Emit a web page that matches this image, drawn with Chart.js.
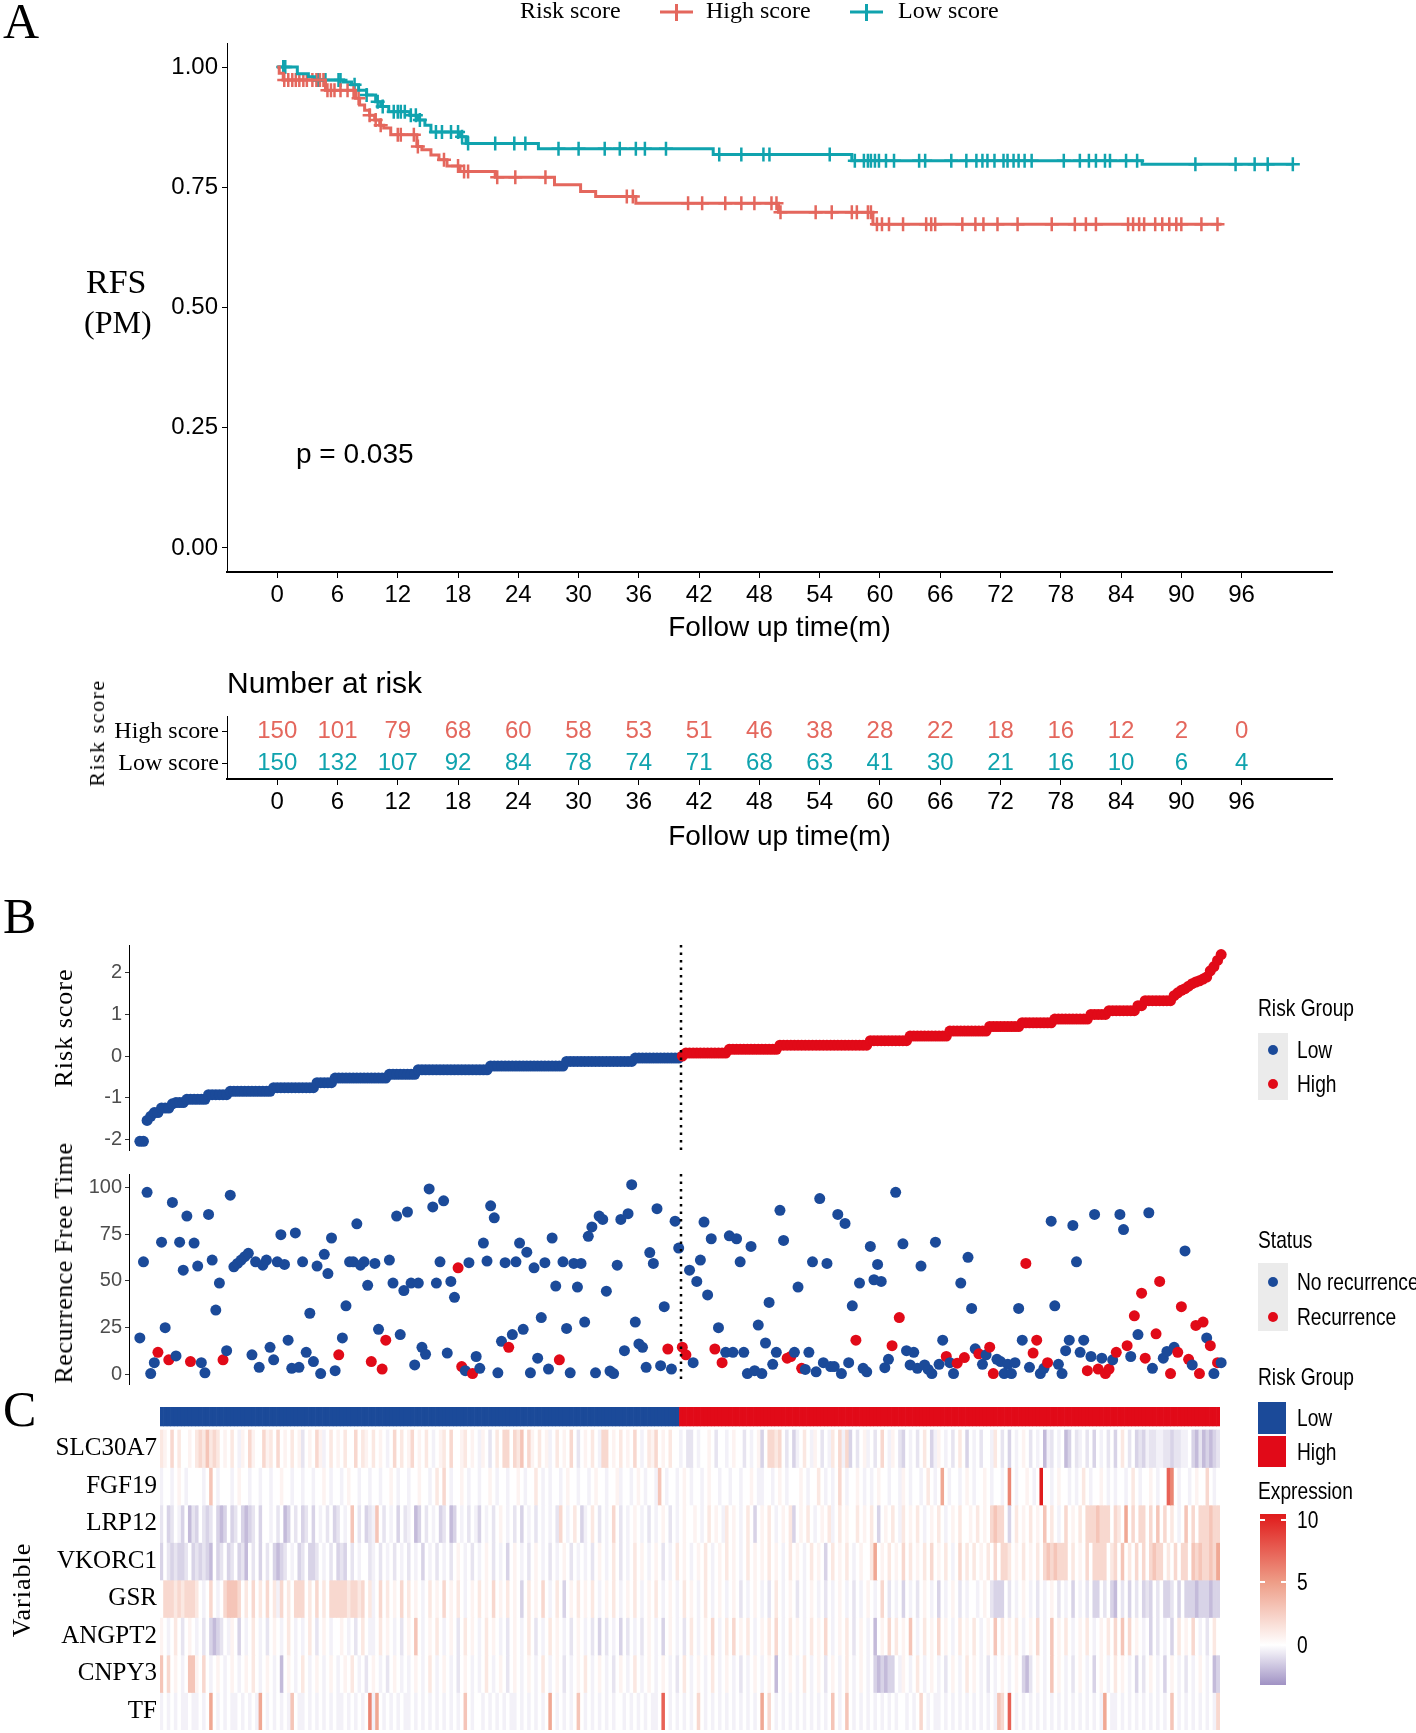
<!DOCTYPE html>
<html>
<head>
<meta charset="utf-8">
<script src="https://cdn.jsdelivr.net/npm/chart.js@4.4.1/dist/chart.umd.min.js"></script>
<style>
  body { margin: 0; background: #fff; }
  #page { position: relative; width: 1416px; height: 1733px; overflow: hidden; background: #fff; }
  canvas { position: absolute; left: 0; }
  .t { position: absolute; white-space: nowrap; color: #000; line-height: 1; }
  .serif { font-family: "Liberation Serif", "Times New Roman", serif; }
  .sans { font-family: "Liberation Sans", Arial, sans-serif; }
  .mid { transform: translateY(-50%); }
  .vert { transform: translate(-50%, -50%) rotate(-90deg); }
  .narrow { transform: translateY(-50%) scaleX(0.8); transform-origin: left center; font-size: 24px; }
  .box { position: absolute; }
  .dot { position: absolute; width: 10px; height: 10px; border-radius: 50%; }
</style>
</head>
<body>
<div id="page">
  <canvas id="km" width="1416" height="650" style="top:0"></canvas>
  <canvas id="riskTable" width="1416" height="210" style="top:650px"></canvas>
  <canvas id="riskScore" width="1416" height="260" style="top:900px"></canvas>
  <canvas id="rft" width="1416" height="240" style="top:1160px"></canvas>
  <canvas id="heat" width="1416" height="333" style="top:1400px"></canvas>

  <!-- panel letters and titles -->
  <div class="t serif mid" style="left:3px;top:21px;font-size:50px">A</div>
  <div class="t serif mid" style="left:3px;top:916px;font-size:50px">B</div>
  <div class="t serif mid" style="left:3px;top:1409px;font-size:50px">C</div>

  <div class="t serif mid" style="left:86px;top:282px;font-size:34px">RFS</div>
  <div class="t serif mid" style="left:84px;top:322px;font-size:32px">(PM)</div>
  <div class="t sans mid" style="left:296px;top:454px;font-size:28px">p = 0.035</div>
  <div class="t sans mid" style="left:227px;top:683px;font-size:30px">Number at risk</div>
  <div class="t serif vert" style="left:97px;top:733px;font-size:22px;letter-spacing:1.5px">Risk score</div>

  <div class="t serif vert" style="left:64px;top:1028px;font-size:26px;letter-spacing:1px">Risk score</div>
  <div class="t serif vert" style="left:64px;top:1263px;font-size:26px;letter-spacing:0.5px">Recurrence Free Time</div>
  <div class="t serif vert" style="left:22px;top:1590px;font-size:26px;letter-spacing:1px">Variable</div>

  <!-- legend: risk group (B) -->
  <div class="t sans narrow" style="left:1258px;top:1008px">Risk Group</div>
  <div class="box" style="left:1258px;top:1033px;width:30px;height:67px;background:#EBEBEB"></div>
  <div class="dot" style="left:1268px;top:1045px;background:#1B4A99"></div>
  <div class="dot" style="left:1268px;top:1079px;background:#E10A18"></div>
  <div class="t sans narrow" style="left:1297px;top:1050px">Low</div>
  <div class="t sans narrow" style="left:1297px;top:1084px">High</div>

  <!-- legend: status -->
  <div class="t sans narrow" style="left:1258px;top:1240px">Status</div>
  <div class="box" style="left:1258px;top:1263px;width:30px;height:68px;background:#EBEBEB"></div>
  <div class="dot" style="left:1268px;top:1277px;background:#1B4A99"></div>
  <div class="dot" style="left:1268px;top:1312px;background:#E10A18"></div>
  <div class="t sans narrow" style="left:1297px;top:1282px">No recurrence</div>
  <div class="t sans narrow" style="left:1297px;top:1317px">Recurrence</div>

  <!-- legend: heatmap -->
  <div class="t sans narrow" style="left:1258px;top:1377px">Risk Group</div>
  <div class="box" style="left:1258px;top:1402px;width:28px;height:32px;background:#1B4A99"></div>
  <div class="box" style="left:1258px;top:1436px;width:28px;height:31px;background:#E10A18"></div>
  <div class="t sans narrow" style="left:1297px;top:1418px">Low</div>
  <div class="t sans narrow" style="left:1297px;top:1452px">High</div>
  <div class="t sans narrow" style="left:1258px;top:1491px">Expression</div>
  <div class="box" style="left:1260px;top:1514px;width:26px;height:171px;background:linear-gradient(to top, rgb(160,146,196) 0%, #fff 23.4%, rgb(238,158,136) 59.9%, rgb(224,28,28) 99.4%)"></div>
  <div class="box" style="left:1260px;top:1519px;width:5px;height:2px;background:#fff"></div>
  <div class="box" style="left:1281px;top:1519px;width:5px;height:2px;background:#fff"></div>
  <div class="box" style="left:1260px;top:1581px;width:5px;height:2px;background:#fff"></div>
  <div class="box" style="left:1281px;top:1581px;width:5px;height:2px;background:#fff"></div>
  <div class="box" style="left:1260px;top:1644px;width:5px;height:2px;background:#fff"></div>
  <div class="box" style="left:1281px;top:1644px;width:5px;height:2px;background:#fff"></div>
  <div class="t sans narrow" style="left:1297px;top:1520px">10</div>
  <div class="t sans narrow" style="left:1297px;top:1582px">5</div>
  <div class="t sans narrow" style="left:1297px;top:1645px">0</div>
</div>

<script>
// ---- Panel A: Kaplan-Meier (RFS) ----
const timeTicks = [0, 6, 12, 18, 24, 30, 36, 42, 48, 54, 60, 66, 72, 78, 84, 90, 96];
const survTicks = [0, 0.25, 0.5, 0.75, 1];

const kmHighTime = [0, 0.2, 0.6, 4.8, 7.8, 8.2, 8.7, 9.2, 9.7, 10.2, 10.6, 11.3, 13.9, 14.4, 15.3, 16.1, 16.9, 18.2, 21.7, 27.6, 30.2, 31.7, 35.7, 49.9, 59.3, 94.0];
const kmHighSurv = [1, 0.987, 0.973, 0.952, 0.935, 0.921, 0.91, 0.90, 0.89, 0.879, 0.873, 0.859, 0.835, 0.828, 0.817, 0.807, 0.794, 0.783, 0.771, 0.755, 0.741, 0.731, 0.717, 0.698, 0.673, 0.673];
const kmLowTime = [0, 2.0, 3.1, 3.7, 6.6, 7.4, 8.1, 8.9, 9.8, 10.3, 11.1, 13.2, 14.0, 14.7, 15.3, 18.2, 18.8, 26.0, 43.4, 57.2, 86.1, 101.0];
const kmLowSurv = [1, 0.986, 0.98, 0.973, 0.969, 0.963, 0.952, 0.942, 0.928, 0.918, 0.907, 0.90, 0.89, 0.879, 0.865, 0.855, 0.841, 0.83, 0.818, 0.805, 0.798, 0.798];

const kmHighCensor = [0.7, 1.1, 1.5, 1.85, 2.2, 2.6, 2.95, 3.5, 3.9, 4.25, 4.6, 5.0, 5.35, 5.7, 6.3, 7.0, 7.6, 8.1, 9.2, 9.8, 10.3, 12.0, 12.3, 13.6, 14.0, 16.6, 18.0, 18.6, 19.0, 21.9, 23.7, 26.7, 34.8, 35.4, 40.9, 42.3, 44.6, 46.2, 47.5, 49.2, 49.7, 50.1, 53.6, 55.2, 57.2, 57.7, 58.8, 59.1, 59.7, 60.2, 60.9, 62.3, 64.6, 65.1, 65.5, 68.2, 69.5, 70.3, 71.7, 73.7, 77.1, 79.4, 80.5, 81.5, 84.7, 85.2, 85.8, 86.3, 87.4, 88.1, 88.8, 89.5, 90.0, 92.0, 93.6];
const kmLowCensor = [0.6, 0.8, 4.05, 4.8, 6.1, 6.3, 7.7, 8.9, 10.0, 10.5, 11.6, 12.0, 12.3, 12.7, 13.3, 13.8, 14.2, 15.8, 16.4, 17.3, 18.0, 18.4, 19.0, 21.7, 23.6, 24.7, 28.0, 30.0, 32.6, 34.1, 35.7, 36.6, 38.7, 44.0, 46.2, 48.4, 49.0, 55.0, 57.5, 58.4, 58.8, 59.1, 59.5, 59.9, 60.6, 61.4, 63.9, 64.5, 67.1, 68.6, 69.6, 70.2, 70.7, 71.4, 72.3, 72.7, 73.3, 73.8, 74.4, 75.1, 78.3, 79.9, 80.8, 81.5, 82.4, 82.9, 84.5, 85.6, 91.4, 95.4, 97.3, 98.6, 101.1];

// number at risk table
const riskRows = ['High score', 'Low score'];
const atRiskHigh = [150, 101, 79, 68, 60, 58, 53, 51, 46, 38, 28, 22, 18, 16, 12, 2, 0];
const atRiskLow = [150, 132, 107, 92, 84, 78, 74, 71, 68, 63, 41, 30, 21, 16, 10, 6, 4];

// ---- Panel B: risk score (sorted, as runs of equal values) ----
const riskLevels = [-2.05, -1.55, -1.45, -1.36, -1.25, -1.15, -1.12, -1.04, -0.93, -0.85, -0.76, -0.64, -0.53, -0.44, -0.33, -0.24, -0.13, -0.05,
  0.0, 0.07, 0.16, 0.26, 0.37, 0.48, 0.60, 0.71, 0.80, 0.89, 1.00, 1.09, 1.21, 1.33,
  1.45, 1.52, 1.58, 1.62, 1.68, 1.74, 1.78, 1.81, 1.85, 1.90, 2.05, 2.15, 2.30, 2.44];
const riskCounts = [2, 1, 1, 2, 3, 1, 3, 6, 6, 12, 12, 5, 15, 8, 20, 21, 19, 13,
  1, 12, 14, 25, 11, 11, 11, 9, 9, 10, 5, 8, 2, 8,
  1, 1, 1, 1, 1, 1, 1, 1, 1, 1, 1, 1, 1, 1];
const groupSizes = [150, 150];
const scoreTicks = [-2, -1, 0, 1, 2];

// recurrence free time per patient (same order) and status (1 = recurrence)
const rftTime = [
  19.5, 60.2, 97.3, 0.5, 6.3, 11.8, 70.7, 25, 7.8, 91.9,
  9.9, 70.7, 55.7, 84.6, 6.9, 70.2, 57.9, 6.3, 0.9, 85.5,
  61.1, 34.4, 48.8, 7.8, 12.7, 95.8, 57.5, 59.3, 61.1, 62.9,
  64.7, 10.5, 60.2, 3.8, 58.4, 61.1, 14.5, 7.8, 60.2, 74.7,
  58.8, 18.3, 3.3, 75.6, 3.8, 60.2, 11.8, 32.7, 6.9, 57.9,
  0.5, 64.2, 53.9, 72.9, 2, 10.5, 19.5, 36.7, 60.2, 60.2,
  80.5, 58.4, 60.2, 47.6, 6.9, 59.3, 24.1, 2.9, 18.3, 61.1,
  48.8, 84.6, 21.3, 44.8, 86.8, 48.8, 5.1, 48.8, 14.5, 10.8,
  99.1, 89.5, 48.8, 60.2, 92.8, 11.4, 49.7, 41.2, 57, 4.2,
  2, 59.7, 0.5, 9.6, 3.3, 70.2, 60.6, 90.1, 83.7, 0.9,
  17.7, 59.7, 14.5, 21.3, 60.2, 70.2, 24.1, 65.3, 0.9, 57,
  8.7, 30.4, 59.7, 2.9, 72.9, 47.2, 7.8, 60.2, 24.6, 0.9,
  59.3, 46.7, 59.3, 28, 73.8, 78.8, 0.9, 84.6, 82.8, 44.5,
  1.8, 0.5, 58.4, 82.8, 12.7, 85.9, 101.4, 28, 16.3, 14.5,
  3.8, 65.1, 59.3, 88.6, 4.7, 36.2, 13.6, 2.9, 81.9, 67.5,
  14.6, 10.5, 55.7, 6.3, 49.7, 61.1, 81.4, 42.5, 72.5, 13.6,
  25, 6.3, 11.8, 74.1, 11.8, 72.5, 60.2, 11.8, 0.5, 68.4,
  2, 26.4, 0.5, 16.8, 38.5, 5.4, 11.8, 87.7, 71.6, 8.7,
  9.6, 11.8, 46.7, 3.3, 2.7, 11.8, 60.2, 1.4, 94, 6.3,
  59.3, 4.2, 4.2, 85.5, 0.5, 80.7, 6.3, 36.7, 18.3, 48.8,
  3.3, 1.4, 68.4, 50.6, 58.8, 49.7, 3.6, 8.1, 15.4, 97.3,
  30.4, 69.8, 12.7, 5.1, 11.8, 3.3, 57.9, 5.1, 2.7, 0.5,
  70.7, 5.4, 18.3, 9.6, 6.3, 0.5, 6, 48.8, 9, 62.6,
  35.3, 13.7, 11, 5.4, 10.5, 14.6, 0.5, 8.1, 6.9, 0.5,
  5.4, 0.5, 6.3, 35.3, 18.3, 59.3, 3.8, 11.4, 18.3, 0.5,
  3.3, 6.3, 81.9, 36.7, 5.4, 0.5, 12.7, 18.3, 79.6, 60.2,
  11.8, 18.3, 2, 9.6, 85.5, 2.9, 8.7, 0.5, 2.9, 7.8,
  11.8, 85.5, 77.4, 15.4, 9.6, 31.3, 21.3, 43.4, 8.7, 86.4,
  3.3, 21.7, 49.7, 8.7, 12.3, 0.5, 14.5, 11.8, 36.2, 66,
  8.1, 5.1, 26.2, 0.5, 28, 19.5, 15.4, 0.5, 6.3, 6.3
];
const rftStatus = (
  '0000010010 0000100000 0001000000 0000000000 0000000000 0000010000 0000100110 0000000000 0000000011 0010000000 ' +
  '0010000000 0000001000 0000000000 0000000000 0000001000 ' +
  '1100000001 0100000000 0000000001 1001000000 0000000010 0000000010 1000000000 0001001010 0010011000 0000010110 ' +
  '0100000000 0010010110 1001010110 0110010110 1011101010'
).replace(/ /g, '').split('').map(Number);
const rftTicks = [0, 25, 50, 75, 100];

// ---- Panel C: expression heatmap (one code per patient column) ----
const geneNames = ['SLC30A7', 'FGF19', 'LRP12', 'VKORC1', 'GSR', 'ANGPT2', 'CNPY3', 'TF'];
const heatGroupSizes = [147, 153];
const hmLevels = { '.': 0, '1': 0.6, '2': 1.2, '3': 2, '4': 3, '5': 4.5, '6': 6, '7': 7.5, '8': 9, '9': 10.4,
  'a': -0.4, 'b': -0.8, 'c': -1.3, 'd': -2, 'e': -2.8 };
const hmSLC30A7 = '21.3.2..1. 2324232.1. 2.a1.31..3 12.3.1.2.1 b.1.31a.2. 1.2..3.21. 2.1.a.3.2. 13.1.2.a.1 2.3..12.1. a1.b.2.33. ' +
  '324.31.2.1 a.2.1.3.b. 1.2.a33.1. 2.1.3.a.21 3.1.2..a.b b.a..1.b.. a.1..b.a.1 c.3323.b.c a.2.a1.b.a 2.3a3c.b.1 ' +
  'a.b.3.a1.b c.a.b.2.ca 1.a.b.2.c. a.b..a2.b. c.a.1.b.a. dab.a.dc.b a.b.c.a.b. c.2.b.cbca bbaabbcbba a.cdbdcdcb';
const hmFGF19 = 'a..a.1.a.. ..a.4.a... a.1..a..a. .a..1..a.. a..a..1.a. .a.1..a..a ..a..1.a.. a..1..a.2. 3.a..1.a.. a..1.a..a. ' +
  '.1.a..2.a. a..a.1..a. .a.1..a..1 a..a.1.a.. a4.a..a.1. a..a.1..a. .a..a..1.a a..a.1.a.. .1.a..2.a. a.3.a..1.a ' +
  '.a.1..a..a 1.a..a.2.a .5.a..a.1. a..1.a..a. 6.a..1.a.9 ..a.1..a.a .2.a..1.a. a..a.2.a.. 1.a..76.a. .a.1..3.a.';
const hmLRP12 = 'b.cb.ac.db c.bcb.cdc. cb.cdcb.c. .a.b.dc.b. cb.c.a.b.c b.a.4.b.cb a4.b.a.c.b a.dc.b.a.c b.dc.a.b.a c.a.b.1.a. ' +
  'b.c.a.b.a. a.b3.a.2.c a.2.b.a.3. b.a.1.a.b. a.1.b.a.1. .1.a.2.1.a 2.1.a.2.c. 1.2.a.1.2c .1.2.a.1.2 a.2.1..2.1 ' +
  '.2.c.1.2.a 2.1.2.a.1. 2.a.1.2..1 .2.1.3433. c.2.1.2.1. 4.2.a.3.1. 2.3334333. 32.5.3.33. 3.4.3.2.a. 4.3.333433';
const hmVKORC1 = 'c.bcbccb.c bcbcd.cb.c b.cbd.b.c. b.cdcb.a.c b.ccb.a.b. cbc.b.a..b a.b.a.b.a. b.a.c.a.b. a.b.1.a.b. a.1.b.a.c. ' +
  '1.a.b.1.a. b.a.1.b.a. a.b.1.a.2. b.a.2.1.a. 1.b.a.2.1. a.1.2.a.1. 2.1.a.2.1. 1.2.1.a.2. 1.a.2.1.c. 2.1.2.a.1. ' +
  '.25.1.2.1. 3.2.1.2.3. 1.2.a.3.2. 2.1.2.3.33 2.1.2.1.2. 3434333.2. 1.3.3333.2 3.4.2.3.3. 3433.2.3.3 3.43433435';
const hmGSR = '.333232333 2.a.3.a.34 443.2.3.2. 3.2a3.2.33 3.2.3.2.33 33323323.2 a.3.2.1.3. 2.1.a.2.1. 3.1.2.a.1. 2.1.3.1.2. ' +
  '1.c.2.1.3. a.2.c.1.2. 1.2.a.1.2. a.1.2.a.1. 2.a.1.a.2. 1.a.2.a.1. a.1.b.a.1. a.b.2.a.1. b.a.1.a.b. a.1.a.b.a. ' +
  '1.a.3.b.a. c.a.b.1.a. c.a.1.b.a. .a.1.bccc. b.a.1.a.b. a.1.b.a.c. a.b.cc.b.c d.b.c.b.cb c.b.ccb.c. cccdcccdcc';
const hmANGPT2 = '1.a.2.b.1. a.b.cdcb.a 1.c.a.2.a. b.1.a.2.a. a.2.b.1.a. .1.a.b.2.a a.2.1.a.b. 1.4.a.1.2. a.1.b.2.1. a.2.1.a.b. ' +
  '1.a.2.b.a. 2.1.a.b.1. a.b.c.b.a. c.b.a.b.1. a.c.1.a.b. 2.a.1.3.a. 2.3.1.2.a. 1.2.3.a.2. 1.a.2.1.3. a.1.2.b.1. ' +
  'a.d.1.3.2. 1.4.a.2.1. 3.1.a.2.1. 2.a.1.4.2. 1.2.a.1.3. a.4.1.2.a. 1.2.a.1.2. 3.4.3.1.a. c.b.a.c.2. 1.3.a.b.2.';
const hmCNPY3 = '4.3.1.a.44 1.3.a.1.a. 1.a.1.2.a. 1.a.d.1.a. 2.a.1.a.1. a.1.2.a.b. 1.a.b.1.a. a.1.a.2.a. 1.a.b.1.a. a.2.a.1.b. ' +
  '1.a.1.a.2. a.1.b.a.1. 2.a.1.a.b. 1.a.2.a.1. a.1.a.b.2. a.1.a.2.a. 1.a.b.a.1. a.1.d.a.1. a.2.a.1.b. 1.a.2.a.1. ' +
  'a.cdcdcc.a 1.a.2.a.1. a.b.1.a.2. 1.a.b.a.1. a.1.cdb.1. a.4.1.a.b. 1.a.c.1.a. 2.1.a.c.b. 1.a.c.1.a. b.a.1.a.dc';
const hmTF = 'a.a.a.aa.a a.a.5.a.a. aa.a.a.a5. a.a.a.a4.a a.a.a.a.a. aa.a.a.a.6 a5.a.a.a.a a.a.a.a.a. a.a.a.4.a. .a.a.a.a.a ' +
  'a.a.a.a.a. 5.a.a.a.4. a.a.a.a.a. .a.a.a.a.a a.7.a.a.a. a.3.a.a.a. a.a.a.a.a. 5.3.a.a.a. a.a.a.a.a. 4.a.4.a.a. ' +
  'a.a.a.a.a. .a.a.3.a.a a.a.a.a.a. a.a.a.a43. 7.a.a.a.a. a.a.a.a.a. a.a.a.a5.a a.a.a.a.a. a.a.a.4.a. a.a.a.a.a3';
const heatRows = [hmSLC30A7, hmFGF19, hmLRP12, hmVKORC1, hmGSR, hmANGPT2, hmCNPY3, hmTF];

// ---- styles ----
const RED = '#E4675D', TEAL = '#10A3AE';
const LOW_BLUE = '#1B4A99', HIGH_RED = '#E10A18';
const SANS = '"Liberation Sans", Arial, sans-serif';
const SERIF = '"Liberation Serif", "Times New Roman", serif';

Chart.defaults.animation = false;
Chart.defaults.responsive = false;
Chart.defaults.devicePixelRatio = 1;
Chart.defaults.plugins.legend.display = false;
Chart.defaults.plugins.tooltip.enabled = false;

function survAt(times, surv, t) {
  let s = surv[0];
  for (let i = 0; i < times.length; i++) {
    if (times[i] <= t) s = surv[i];
  }
  return s;
}

// fixed axis width, no extra room reserved for the end labels
function fixWidth(w) {
  return s => { s.width = w; s.paddingTop = 0; s.paddingBottom = 0; };
}

function timeAxis(height, titlePad) {
  return {
    type: 'linear', min: -5, max: 105,
    afterBuildTicks: s => { s.ticks = timeTicks.map(v => ({ value: v })); },
    afterFit: s => { s.height = height; },
    grid: { drawOnChartArea: false, drawTicks: true, tickLength: 6, color: '#000' },
    border: { display: true, color: '#000', width: 2 },
    ticks: { color: '#000', font: { family: SANS, size: 24 }, padding: 3, maxRotation: 0, autoSkip: false },
    title: { display: true, text: 'Follow up time(m)', color: '#000', font: { family: SANS, size: 28 }, padding: { top: 0, bottom: titlePad } }
  };
}

// legend along the top of panel A
const kmLegend = {
  id: 'kmLegend',
  afterDraw(chart) {
    const ctx = chart.ctx;
    ctx.save();
    ctx.font = '24px ' + SERIF;
    ctx.textBaseline = 'middle';
    ctx.fillStyle = '#000';
    ctx.fillText('Risk score', 520, 12);
    [[RED, 660, 'High score', 706], [TEAL, 850, 'Low score', 898]].forEach(([col, x0, label, tx]) => {
      ctx.strokeStyle = col;
      ctx.lineWidth = 3;
      ctx.beginPath();
      ctx.moveTo(x0, 12); ctx.lineTo(x0 + 33, 12);
      ctx.moveTo(x0 + 16.5, 4); ctx.lineTo(x0 + 16.5, 21);
      ctx.stroke();
      ctx.fillStyle = '#000';
      ctx.fillText(label, tx, 12);
    });
    ctx.restore();
  }
};

new Chart(document.getElementById('km'), {
  type: 'line',
  data: {
    datasets: [
      { data: kmHighTime.map((t, i) => ({ x: t, y: kmHighSurv[i] })), borderColor: RED, borderWidth: 3, stepped: true, pointRadius: 0, fill: false },
      { data: kmLowTime.map((t, i) => ({ x: t, y: kmLowSurv[i] })), borderColor: TEAL, borderWidth: 3, stepped: true, pointRadius: 0, fill: false },
      { data: kmHighCensor.map(t => ({ x: t, y: survAt(kmHighTime, kmHighSurv, t) })), showLine: false, pointStyle: 'cross', pointRadius: 7, borderColor: RED, borderWidth: 2.5 },
      { data: kmLowCensor.map(t => ({ x: t, y: survAt(kmLowTime, kmLowSurv, t) })), showLine: false, pointStyle: 'cross', pointRadius: 7, borderColor: TEAL, borderWidth: 2.5 }
    ]
  },
  options: {
    layout: { padding: { left: 0, top: 43, right: 84, bottom: 0 } },
    scales: {
      x: timeAxis(78, 5),
      y: {
        type: 'linear', min: -0.05, max: 1.05,
        afterBuildTicks: s => { s.ticks = survTicks.map(v => ({ value: v })); },
        afterFit: fixWidth(227),
        grid: { drawOnChartArea: false, tickLength: 5, color: '#000' },
        border: { display: true, color: '#000', width: 1 },
        ticks: { color: '#000', font: { family: SANS, size: 24 }, padding: 4, callback: v => v.toFixed(2) }
      }
    }
  },
  plugins: [kmLegend]
});

// number-at-risk labels drawn at each (invisible) point
const riskText = {
  id: 'riskText',
  afterDatasetsDraw(chart) {
    const ctx = chart.ctx;
    ctx.save();
    ctx.font = '24px ' + SANS;
    ctx.textAlign = 'center';
    ctx.textBaseline = 'middle';
    chart.data.datasets.forEach((ds, di) => {
      ctx.fillStyle = ds.textColor;
      chart.getDatasetMeta(di).data.forEach((el, i) => {
        ctx.fillText(String(ds.data[i].n), el.x, el.y);
      });
    });
    ctx.restore();
  }
};

new Chart(document.getElementById('riskTable'), {
  type: 'scatter',
  data: {
    datasets: [
      { data: timeTicks.map((t, i) => ({ x: t, y: riskRows[0], n: atRiskHigh[i] })), pointRadius: 0, textColor: RED },
      { data: timeTicks.map((t, i) => ({ x: t, y: riskRows[1], n: atRiskLow[i] })), pointRadius: 0, textColor: TEAL }
    ]
  },
  options: {
    layout: { padding: { left: 0, top: 66, right: 84, bottom: 0 } },
    scales: {
      x: timeAxis(81, 6),
      y: {
        type: 'category', labels: riskRows, offset: true,
        afterFit: fixWidth(227),
        grid: { drawOnChartArea: false, tickLength: 5, color: '#000' },
        border: { display: true, color: '#000', width: 1 },
        ticks: { color: '#000', font: { family: SERIF, size: 24 }, padding: 3, autoSkip: false }
      }
    }
  },
  plugins: [riskText]
});

// ---- Panel B ----
const riskScore = [];
riskLevels.forEach((v, i) => { for (let k = 0; k < riskCounts[i]; k++) riskScore.push(v); });
const cutIndex = groupSizes[0] + 0.5;

const cutLine = {
  id: 'cutLine',
  afterDatasetsDraw(chart) {
    const { ctx, chartArea, scales } = chart;
    const x = Math.round(scales.x.getPixelForValue(cutIndex));
    ctx.save();
    ctx.strokeStyle = '#000';
    ctx.lineWidth = 2.5;
    ctx.setLineDash([2.5, 5]);
    ctx.beginPath();
    ctx.moveTo(x, chartArea.top);
    ctx.lineTo(x, chartArea.bottom);
    ctx.stroke();
    ctx.restore();
  }
};

function scoreYAxis(min, max, ticks) {
  return {
    type: 'linear', min: min, max: max,
    afterBuildTicks: s => { s.ticks = ticks.map(v => ({ value: v })); },
    afterFit: fixWidth(129),
    grid: { drawOnChartArea: false, tickLength: 4, color: '#333' },
    border: { display: true, color: '#000', width: 1 },
    ticks: { color: '#4D4D4D', font: { family: SANS, size: 20 }, padding: 3, callback: v => String(v) }
  };
}

new Chart(document.getElementById('riskScore'), {
  type: 'scatter',
  data: {
    datasets: [{
      data: riskScore.map((v, i) => ({ x: i + 1, y: v })),
      backgroundColor: riskScore.map((v, i) => i < groupSizes[0] ? LOW_BLUE : HIGH_RED),
      borderWidth: 0, pointRadius: 5.5
    }]
  },
  options: {
    layout: { padding: { left: 0, top: 45, right: 184, bottom: 10 } },
    scales: {
      x: { type: 'linear', min: -2, max: 303, display: false },
      y: scoreYAxis(-2.26, 2.67, scoreTicks)
    }
  },
  plugins: [cutLine]
});

new Chart(document.getElementById('rft'), {
  type: 'scatter',
  data: {
    datasets: [{
      data: rftTime.map((v, i) => ({ x: i + 1, y: v })),
      backgroundColor: rftStatus.map(s => s ? HIGH_RED : LOW_BLUE),
      borderWidth: 0, pointRadius: 5.5
    }]
  },
  options: {
    layout: { padding: { left: 0, top: 14, right: 184, bottom: 16 } },
    scales: {
      x: { type: 'linear', min: -2, max: 303, display: false },
      y: scoreYAxis(-5.1, 107.1, rftTicks)
    }
  },
  plugins: [cutLine]
});

// ---- Panel C: heatmap as floating bars ----
const exprStops = [[-3.2, [160, 146, 196]], [0, [255, 255, 255]], [5, [238, 158, 136]], [10.4, [224, 28, 28]]];
function exprColor(v) {
  for (let i = 1; i < exprStops.length; i++) {
    if (v <= exprStops[i][0] || i === exprStops.length - 1) {
      const [v0, c0] = exprStops[i - 1];
      const [v1, c1] = exprStops[i];
      const f = Math.max(0, Math.min(1, (v - v0) / (v1 - v0)));
      return 'rgb(' + c0.map((c, k) => Math.round(c + (c1[k] - c) * f)).join(',') + ')';
    }
  }
}

const nCols = heatGroupSizes[0] + heatGroupSizes[1];
const hmColumns = Array.from({ length: nCols }, (_, i) => String(i + 1));
const heatDatasets = heatRows.map((row, gi) => {
  const codes = row.replace(/ /g, '').padEnd(nCols, '.').slice(0, nCols).split('');
  return {
    label: geneNames[gi],
    data: hmColumns.map(() => [7 - gi, 8 - gi]),
    backgroundColor: codes.map(c => exprColor(hmLevels[c]))
  };
});
heatDatasets.push({
  label: 'Risk Group',
  data: hmColumns.map(() => [8.107, 8.613]),
  backgroundColor: hmColumns.map((c, i) => i < heatGroupSizes[0] ? LOW_BLUE : HIGH_RED)
});

new Chart(document.getElementById('heat'), {
  type: 'bar',
  data: { labels: hmColumns, datasets: heatDatasets },
  options: {
    layout: { padding: { left: 0, top: 7, right: 196, bottom: 3 } },
    datasets: { bar: { barPercentage: 1, categoryPercentage: 1, grouped: false, borderWidth: 0 } },
    scales: {
      x: { type: 'category', display: false },
      y: {
        type: 'linear', min: 0, max: 8.613,
        afterBuildTicks: s => { s.ticks = geneNames.map((g, gi) => ({ value: 7.5 - gi })); },
        afterFit: fixWidth(160),
        grid: { display: false, drawTicks: false },
        border: { display: false },
        ticks: { color: '#000', font: { family: SERIF, size: 25 }, padding: 3, callback: v => geneNames[7 - Math.floor(v)] }
      }
    }
  }
});
</script>
</body>
</html>
